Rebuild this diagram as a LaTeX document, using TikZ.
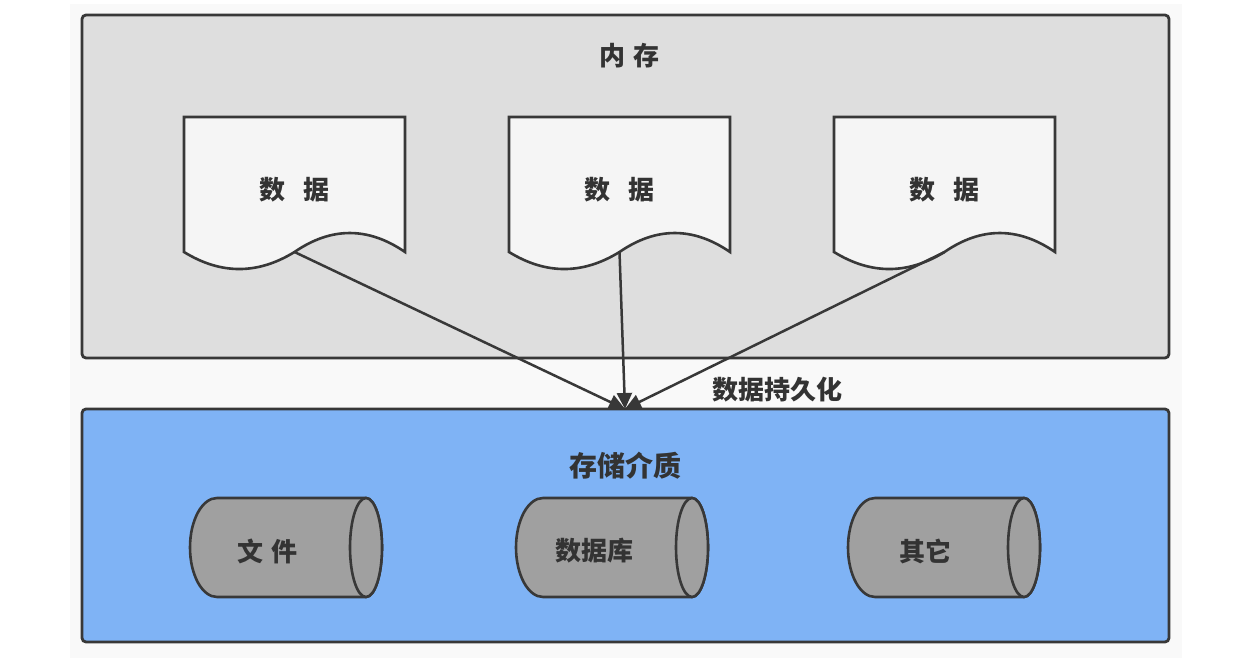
\documentclass[tikz,border=0pt]{standalone}
\usepackage{fontspec}
\setmainfont{Noto Sans CJK SC}
\usetikzlibrary{arrows.meta}
\definecolor{bgpale}{HTML}{F9F9F9}
\definecolor{memfill}{HTML}{DEDEDE}
\definecolor{docfill}{HTML}{F5F5F5}
\definecolor{storefill}{HTML}{7FB3F5}
\definecolor{cylfill}{HTML}{A0A0A0}
\definecolor{ink}{HTML}{383838}
\definecolor{txt}{HTML}{333333}
\tikzset{
  panel/.style={draw=ink, line width=2.8pt, rounded corners=4pt},
  docshape/.style={draw=ink, fill=docfill, line width=2.6pt},
  cylbody/.style={draw=ink, fill=cylfill, line width=2.6pt},
  lbl/.style={text=txt, font=\fontsize{26pt}{30pt}\selectfont\bfseries, inner sep=0pt},
  biglbl/.style={lbl, font=\fontsize{28pt}{32pt}\selectfont\bfseries},
  flow/.style={draw=ink, line width=2.5pt, -{Triangle[length=16pt,width=15pt]}}
}
\begin{document}
\begin{tikzpicture}[x=1pt,y=1pt]
\useasboundingbox (0,0) rectangle (1260,658);
\fill[bgpale] (70,0) rectangle (1182,654);
% panels
\draw[panel, fill=memfill] (82,300) rectangle (1169,643);
\draw[panel, fill=storefill] (82,16) rectangle (1169,249);
\node[lbl] (memtitle) at (629.5,602) {内\hspace{8pt}存};
\node[biglbl] (storetitle) at (625.5,192.5) {存储介质};
% documents
\foreach \i/\x in {1/184,2/509,3/834}{
  \draw[docshape] (\x,541) -- (\x+221,541) -- (\x+221,406)
     .. controls (\x+184.2,431.3) and (\x+147.3,431.3) .. (\x+110.5,406)
     .. controls (\x+73.7,383.3) and (\x+36.8,383.3) .. (\x,406) -- cycle;
  \coordinate (wave\i) at (\x+110.5,406);
  \node[lbl] (doc\i) at (\x+110.5,468.5) {数\hspace{18pt}据};
}
% arrows
\coordinate (sink) at (625,249);
\draw[flow] (wave1) -- (sink);
\draw[flow] (wave2) -- (sink);
\draw[flow] (wave3) -- (sink);
\node[lbl] (persist) at (777.5,268) {数据持久化};
% cylinders
\foreach \i/\x in {1/190,2/516,3/848}{
  \draw[cylbody] (\x+27,160) -- (\x+176,160)
     arc[start angle=90,end angle=-90,x radius=16,y radius=49.5]
     -- (\x+27,61)
     arc[start angle=270,end angle=90,x radius=27,y radius=49.5] -- cycle;
  \draw[cylbody] (\x+176,110.5) ellipse[x radius=16,y radius=49.5];
}
\node[lbl] (file) at (267.5,107) {文\hspace{8pt}件};
\node[lbl] (db) at (594,107) {数据库};
\node[lbl] (other) at (925,107) {其它};
\end{tikzpicture}
\end{document}
